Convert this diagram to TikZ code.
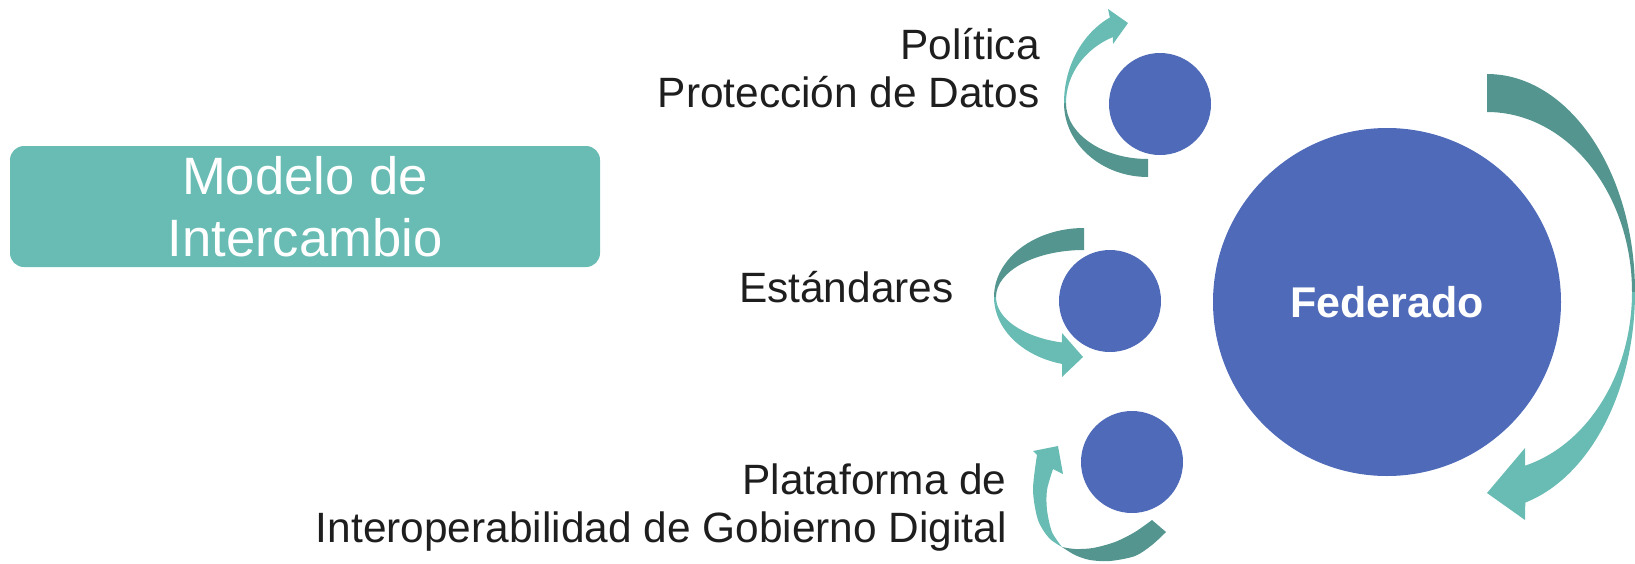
\documentclass[tikz,border=0pt]{standalone}
\usepackage{fontspec}
\setmainfont{Liberation Sans}
\usetikzlibrary{calc}
\definecolor{tealdark}{RGB}{84,150,143}
\definecolor{teallight}{RGB}{104,188,180}
\definecolor{circblue}{RGB}{78,106,184}
\definecolor{labeltext}{RGB}{30,30,30}
\tikzset{
  dot/.style={circle, fill=circblue, inner sep=0pt, minimum size=51pt},
  side label/.style={align=right, inner sep=0pt, text=labeltext,
    font=\fontsize{21.2}{24}\selectfont},
}

\begin{document}
\begin{tikzpicture}[x=0.5pt, y=0.5pt]
\useasboundingbox (0,0) rectangle (1635,-563);

%%%%%%%%%%%%%%%%%%%%%%%%%%%%%%%%%%%%%%%%%%%%%%%%%%%%%%%%%%%%%% modelo
\node[fill=teallight, rounded corners=7pt, minimum width=295pt, minimum height=60.5pt,
  inner sep=0pt, align=center, text=white, font=\fontsize{26.3}{31}\selectfont]
  (modelo) at (305,-206.5) {Modelo de\\Intercambio};

%%%%%%%%%%%%%%%%%%%%%%%%%%%%%%%%%%%%%%%%%%%%%%%%%%%%%%%%%%%%%% politica
\coordinate (A) at (1148,-103);

\fill[tealdark] ($(A)+(0,-74)$) arc[start angle=270, end angle=180, x radius=84, y radius=74]
  -- ($(A)+(-82,0)$) arc[start angle=180, end angle=270, x radius=82, y radius=56] -- cycle;
\fill[teallight] ($(A)+(-84,0)$) arc[start angle=180, end angle=117, x radius=84, y radius=96]
  -- ($(A)+(-40,94)$) -- ($(A)+(-20,80)$) -- ($(A)+(-35,59)$)
  -- ($(A)+(115.3:82 and 73)$) arc[start angle=115.3, end angle=180, x radius=82, y radius=73] -- cycle;

\node[dot] (politica dot) at (1160,-104) {};
\node[side label, anchor=east] (politica) at (1040,-68) {Política\\Protección de Datos};

%%%%%%%%%%%%%%%%%%%%%%%%%%%%%%%%%%%%%%%%%%%%%%%%%%%%%%%%%%%%%% estandares
\coordinate (A) at (1084,-297);

\fill[tealdark] ($(A)+(0,69)$) arc[start angle=90, end angle=180, x radius=90, y radius=69]
  -- ($(A)+(-88,0)$) arc[start angle=180, end angle=90, x radius=88, y radius=47] -- cycle;
\fill[teallight] ($(A)+(-90,0)$) arc[start angle=180, end angle=256, x radius=90, y radius=69]
  -- ($(A)+(-22,-80)$) -- ($(A)+(-1,-60)$) -- ($(A)+(-22,-36)$)
  -- ($(A)+(255.5:88 and 47)$) arc[start angle=255.5, end angle=180, x radius=88, y radius=47] -- cycle;

\node[dot] (estandares dot) at (1110,-301) {};
\node[side label, anchor=base east] (estandares) at (954,-302) {Estándares};

%%%%%%%%%%%%%%%%%%%%%%%%%%%%%%%%%%%%%%%%%%%%%%%%%%%%%%%%%%%%%% plataforma
\coordinate (A) at (1132,-462);

\fill[teallight] plot[smooth] coordinates {($(A)+(-95,7)$) ($(A)+(-99,-28)$) ($(A)+(-94,-58)$)
    ($(A)+(-83,-76)$) ($(A)+(-70,-85)$)}
  -- plot[smooth] coordinates {($(A)+(-70,-85)$) ($(A)+(-80,-70)$) ($(A)+(-85,-48)$)
    ($(A)+(-85,-28)$) ($(A)+(-79,-7)$)}
  -- ($(A)+(-69,-12)$) -- ($(A)+(-74,16)$) -- ($(A)+(-99,11)$) -- cycle;
\fill[tealdark] plot[smooth] coordinates {($(A)+(-70,-85)$) ($(A)+(-57,-93)$) ($(A)+(-42,-98)$)
    ($(A)+(-22,-99)$) ($(A)+(3,-94)$) ($(A)+(20,-83)$) ($(A)+(34,-70)$)}
  -- plot[smooth] coordinates {($(A)+(20,-58)$) ($(A)+(3,-70)$) ($(A)+(-17,-80)$)
    ($(A)+(-39,-86)$) ($(A)+(-57,-87)$) ($(A)+(-70,-85)$)} -- cycle;

\node[dot] (plataforma dot) at (A) {};
\node[side label, anchor=east] (plataforma) at (1007,-507.5)
  {Plataforma de\\Interoperabilidad de Gobierno Digital};

%%%%%%%%%%%%%%%%%%%%%%%%%%%%%%%%%%%%%%%%%%%%%%%%%%%%%%%%%%%%%% federado
\coordinate (A) at (1487,-292);

\fill[tealdark] ($(A)+(0,218)$) arc[start angle=90, end angle=0, x radius=148, y radius=218]
  -- ($(A)+(145,0)$) arc[start angle=0, end angle=90, x radius=145, y radius=180] -- cycle;
\fill[teallight] ($(A)+(148,0)$) arc[start angle=0, end angle=-75, x radius=148, y radius=218]
  -- ($(A)+(38,-228)$) -- ($(A)+(0,-201)$) -- ($(A)+(38,-156)$)
  -- ($(A)+(-74.8:145 and 180)$) arc[start angle=-74.8, end angle=0, x radius=145, y radius=180] -- cycle;

\node[dot, minimum size=174pt, text=white, font=\fontsize{21.5}{26}\selectfont\bfseries]
  (federado) at (1387,-302) {Federado};

\end{tikzpicture}
\end{document}
